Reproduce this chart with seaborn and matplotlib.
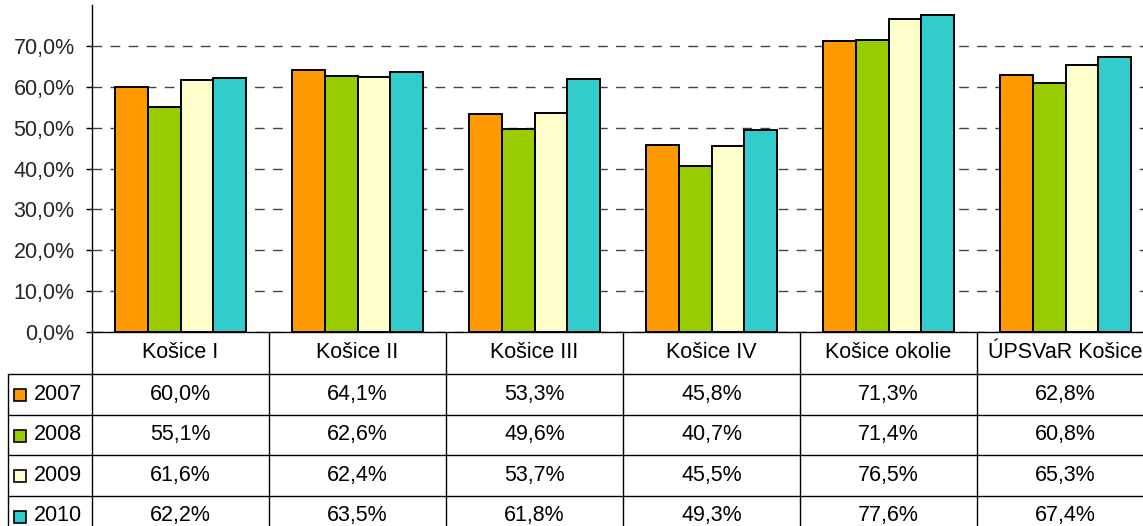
import matplotlib
matplotlib.use("Agg")
import matplotlib.pyplot as plt
import matplotlib.transforms as mtransforms
from matplotlib.lines import Line2D
from matplotlib.patches import Rectangle
import seaborn as sns
import pandas as pd

categories = ["Košice I", "Košice II", "Košice III", "Košice IV", "Košice okolie", "ÚPSVaR Košice"]
years = ["2007", "2008", "2009", "2010"]
v2007 = [60.0, 64.1, 53.3, 45.8, 71.3, 62.8]
v2008 = [55.1, 62.6, 49.6, 40.7, 71.4, 60.8]
v2009 = [61.6, 62.4, 53.7, 45.5, 76.5, 65.3]
v2010 = [62.2, 63.5, 61.8, 49.3, 77.6, 67.4]
colors = ["#FF9900", "#99CC00", "#FFFFCC", "#33CCCC"]
yticks = [0, 10, 20, 30, 40, 50, 60, 70]

series = [v2007, v2008, v2009, v2010]
rows = []
for y, vals in zip(years, series):
    for c, v in zip(categories, vals):
        rows.append({"cat": c, "year": y, "val": v})
df = pd.DataFrame(rows)

sns.set_theme(style="white")
plt.rcParams['font.family'] = ['Liberation Sans', 'DejaVu Sans']
FS = 15.5

W, H = 1143, 526
fig = plt.figure(figsize=(W / 100, H / 100), dpi=100)
col_w = 177
ax_left, ax_top, ax_bottom = 92, 5, 332
ax = fig.add_axes([ax_left / W, (H - ax_bottom) / H, 6 * col_w / W, (ax_bottom - ax_top) / H])

sns.barplot(data=df, x="cat", y="val", hue="year", palette=colors, width=0.735,
            edgecolor="black", linewidth=1.4, ax=ax, legend=False, saturation=1)

ax.set_xlim(-0.5, 5.5)
ax.set_ylim(0, 80)
ax.set_yticks(yticks)
ax.set_yticklabels([f"{t:.1f}%".replace(".", ",") for t in yticks], fontsize=FS)
ax.set_xticks([])
ax.set_xlabel("")
ax.set_ylabel("")
ax.set_axisbelow(True)
ax.yaxis.grid(True, linestyle=(0, (7, 6)), color="#444444", linewidth=1)
ax.tick_params(axis="y", left=True, length=4.5, width=1, color="black", pad=8)
for s in ["top", "right"]:
    ax.spines[s].set_visible(False)
for s in ["left", "bottom"]:
    ax.spines[s].set_color("black")
    ax.spines[s].set_linewidth(1)

# data table below the axis
tr = mtransforms.blended_transform_factory(ax.transData, fig.transFigure)
def fy(py):
    return (H - py) / H

header_bottom = 374
row_h = 40.5
row_tops = [header_bottom + i * row_h for i in range(len(years))]
table_bottom = row_tops[-1] + row_h + 20
leg_left = -0.5 - (ax_left - 8) / col_w
lc = "black"
lw = 1

for i in range(len(categories) + 1):
    xb = i - 0.5
    fig.add_artist(Line2D([xb, xb], [fy(ax_bottom), fy(table_bottom)], transform=tr,
                          color=lc, lw=lw, clip_on=False))
fig.add_artist(Line2D([leg_left, leg_left], [fy(header_bottom), fy(table_bottom)], transform=tr,
                      color=lc, lw=lw, clip_on=False))
for i, rt in enumerate(row_tops):
    fig.add_artist(Line2D([leg_left, 5.5], [fy(rt), fy(rt)], transform=tr, color=lc, lw=lw,
                          clip_on=False))

for i, c in enumerate(categories):
    fig.text(i, fy((ax_bottom + header_bottom) / 2), c, transform=tr, ha="center", va="center",
             fontsize=FS, color="black")

sq = 12 / col_w
for r, (y, vals, colr) in enumerate(zip(years, series, colors)):
    cy = row_tops[r] + row_h / 2
    for i, v in enumerate(vals):
        fig.text(i, fy(cy), f"{v:.1f}%".replace(".", ","), transform=tr, ha="center",
                 va="center", fontsize=FS, color="black")
    sx = leg_left + 6 / col_w
    fig.add_artist(Rectangle((sx, fy(cy + 7)), sq, 12 / H, transform=tr, facecolor=colr,
                             edgecolor="black", lw=1.2, clip_on=False))
    fig.text(leg_left + 26 / col_w, fy(cy), y, transform=tr, ha="left", va="center",
             fontsize=FS, color="black")

fig.savefig("out.png", dpi=100)
